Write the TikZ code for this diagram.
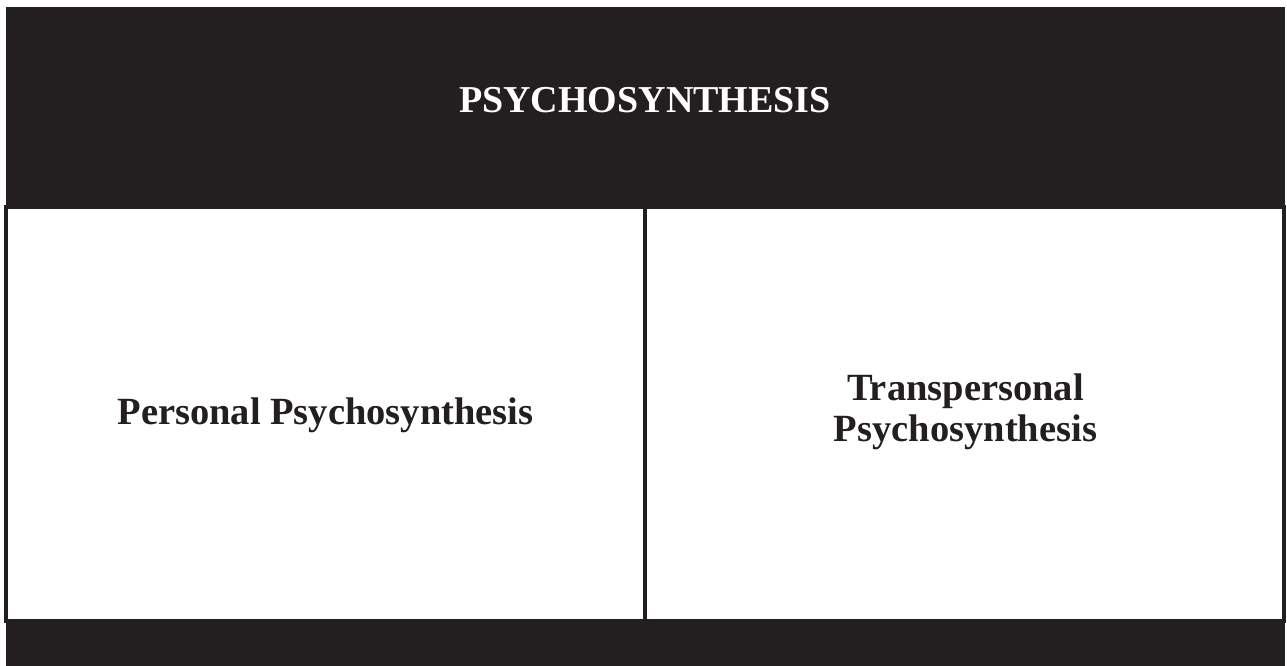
\documentclass[tikz,border=0pt]{standalone}
\usepackage{fontspec}
\setmainfont{Liberation Serif}
\definecolor{ink}{HTML}{231F20}
\begin{document}
\begin{tikzpicture}[x=1pt,y=-1pt,
  band/.style={fill=ink, draw=none},
  panel/.style={draw=ink, fill=white, line width=4pt, inner sep=0pt,
    minimum width=639pt, minimum height=414pt},
  panellabel/.style={text=ink, font=\bfseries\fontsize{38.5}{41.5}\selectfont, align=center},
  titlelabel/.style={text=white, font=\bfseries\fontsize{38}{44}\selectfont}]
  \useasboundingbox (0,0) rectangle (1287,666);
  % dark frame behind everything
  \fill[band] (6,7) rectangle (1285,666);
  % heading
  \node[titlelabel] (title) at (645,100) {PSYCHOSYNTHESIS};
  % the two branches
  \node[panel] (personal) at (325.5,414) {};
  \node[panel] (transpersonal) at (964.5,414) {};
  \node[panellabel] (personaltext) at ([yshift=-1pt]personal.center) {Personal Psychosynthesis};
  \node[panellabel] (transtext) at ([xshift=1pt,yshift=2pt]transpersonal.center) {Transpersonal\\Psychosynthesis};
\end{tikzpicture}
\end{document}
